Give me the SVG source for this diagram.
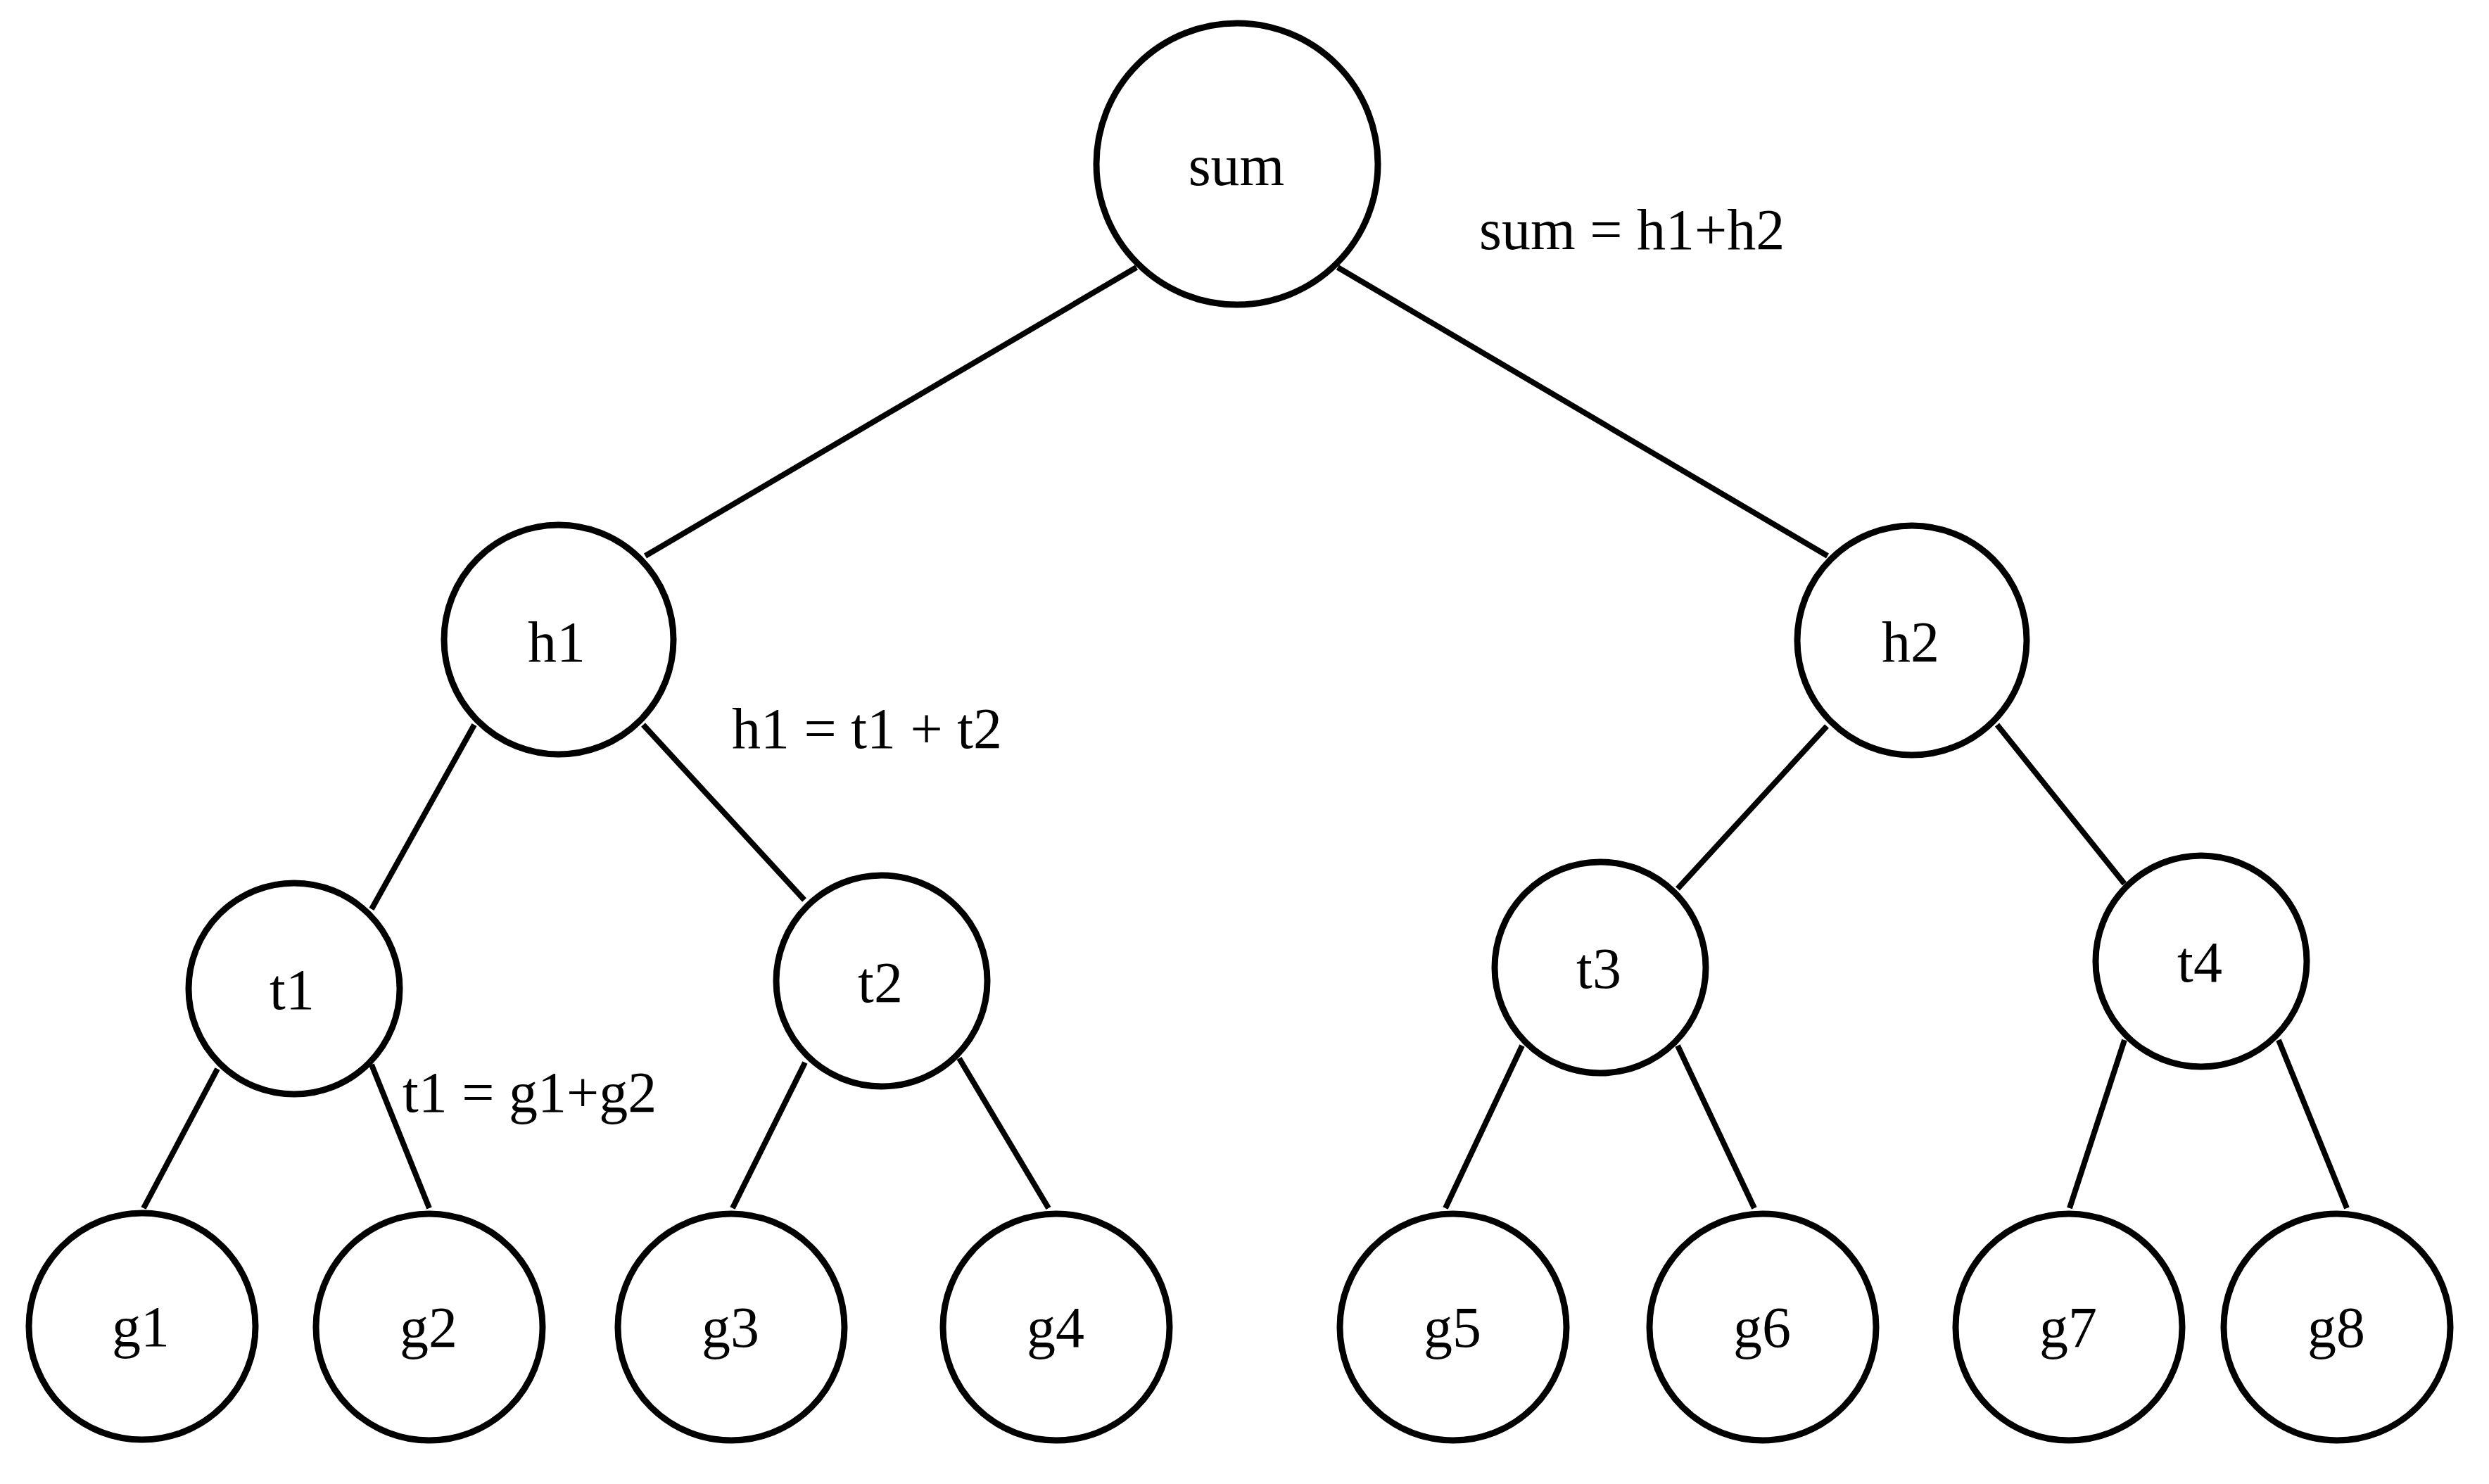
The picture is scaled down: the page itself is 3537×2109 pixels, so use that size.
<svg xmlns="http://www.w3.org/2000/svg" width="3537" height="2109" viewBox="0 0 3537 2109">
<style>
.n{fill:#fff;stroke:#000;stroke-width:9}
.e{stroke:#000;stroke-width:8;fill:none}
.t{font-family:"Liberation Serif","Times New Roman",serif;font-size:82px;fill:#000}
.c{text-anchor:middle}
</style>
<rect width="3537" height="2109" fill="#fff"/>
<g id="connectors">
<line class="e" x1="1615" y1="380" x2="917" y2="790"/>
<line class="e" x1="1901" y1="380" x2="2597" y2="790"/>
<line class="e" x1="674" y1="1030" x2="528" y2="1292"/>
<line class="e" x1="914" y1="1030" x2="1143" y2="1279"/>
<line class="e" x1="2596" y1="1032" x2="2384" y2="1263"/>
<line class="e" x1="2838" y1="1030" x2="3019" y2="1256"/>
<line class="e" x1="309" y1="1519" x2="204" y2="1717"/>
<line class="e" x1="528" y1="1513" x2="610" y2="1717"/>
<line class="e" x1="1144" y1="1510" x2="1041" y2="1717"/>
<line class="e" x1="1363" y1="1504" x2="1490" y2="1717"/>
<line class="e" x1="2163" y1="1486" x2="2054" y2="1717"/>
<line class="e" x1="2384" y1="1486" x2="2493" y2="1717"/>
<line class="e" x1="3019" y1="1478" x2="2941" y2="1717"/>
<line class="e" x1="3238" y1="1478" x2="3335" y2="1717"/>
</g>
<g id="sum"><circle class="n" cx="1758" cy="233" r="200"/><text class="t c" x="1757" y="263">sum</text></g>
<g id="h1"><circle class="n" cx="794" cy="909" r="163"/><text class="t c" x="791" y="940">h1</text></g>
<g id="h2"><circle class="n" cx="2717" cy="910" r="163"/><text class="t c" x="2715" y="940">h2</text></g>
<g id="t1"><circle class="n" cx="418" cy="1405" r="150"/><text class="t c" x="415" y="1434">t1</text></g>
<g id="t2"><circle class="n" cx="1253" cy="1394" r="150"/><text class="t c" x="1251" y="1424">t2</text></g>
<g id="t3"><circle class="n" cx="2274" cy="1375" r="150"/><text class="t c" x="2272" y="1404">t3</text></g>
<g id="t4"><circle class="n" cx="3128" cy="1366" r="150"/><text class="t c" x="3126" y="1395">t4</text></g>
<g id="g1"><circle class="n" cx="202" cy="1885" r="161"/><text class="t c" x="200" y="1913">g1</text></g>
<g id="g2"><circle class="n" cx="610" cy="1886" r="161"/><text class="t c" x="609" y="1914">g2</text></g>
<g id="g3"><circle class="n" cx="1039" cy="1886" r="161"/><text class="t c" x="1038" y="1914">g3</text></g>
<g id="g4"><circle class="n" cx="1501" cy="1886" r="161"/><text class="t c" x="1500" y="1914">g4</text></g>
<g id="g5"><circle class="n" cx="2065" cy="1886" r="161"/><text class="t c" x="2064" y="1914">g5</text></g>
<g id="g6"><circle class="n" cx="2505" cy="1886" r="161"/><text class="t c" x="2504" y="1914">g6</text></g>
<g id="g7"><circle class="n" cx="2940" cy="1886" r="161"/><text class="t c" x="2939" y="1914">g7</text></g>
<g id="g8"><circle class="n" cx="3321" cy="1886" r="161"/><text class="t c" x="3320" y="1914">g8</text></g>
<g id="labels">
<text class="t" x="2102" y="354">sum = h1+h2</text>
<text class="t" x="1040" y="1063">h1 = t1 + t2</text>
<text class="t" x="572" y="1580">t1 = g1+g2</text>
</g>
</svg>
